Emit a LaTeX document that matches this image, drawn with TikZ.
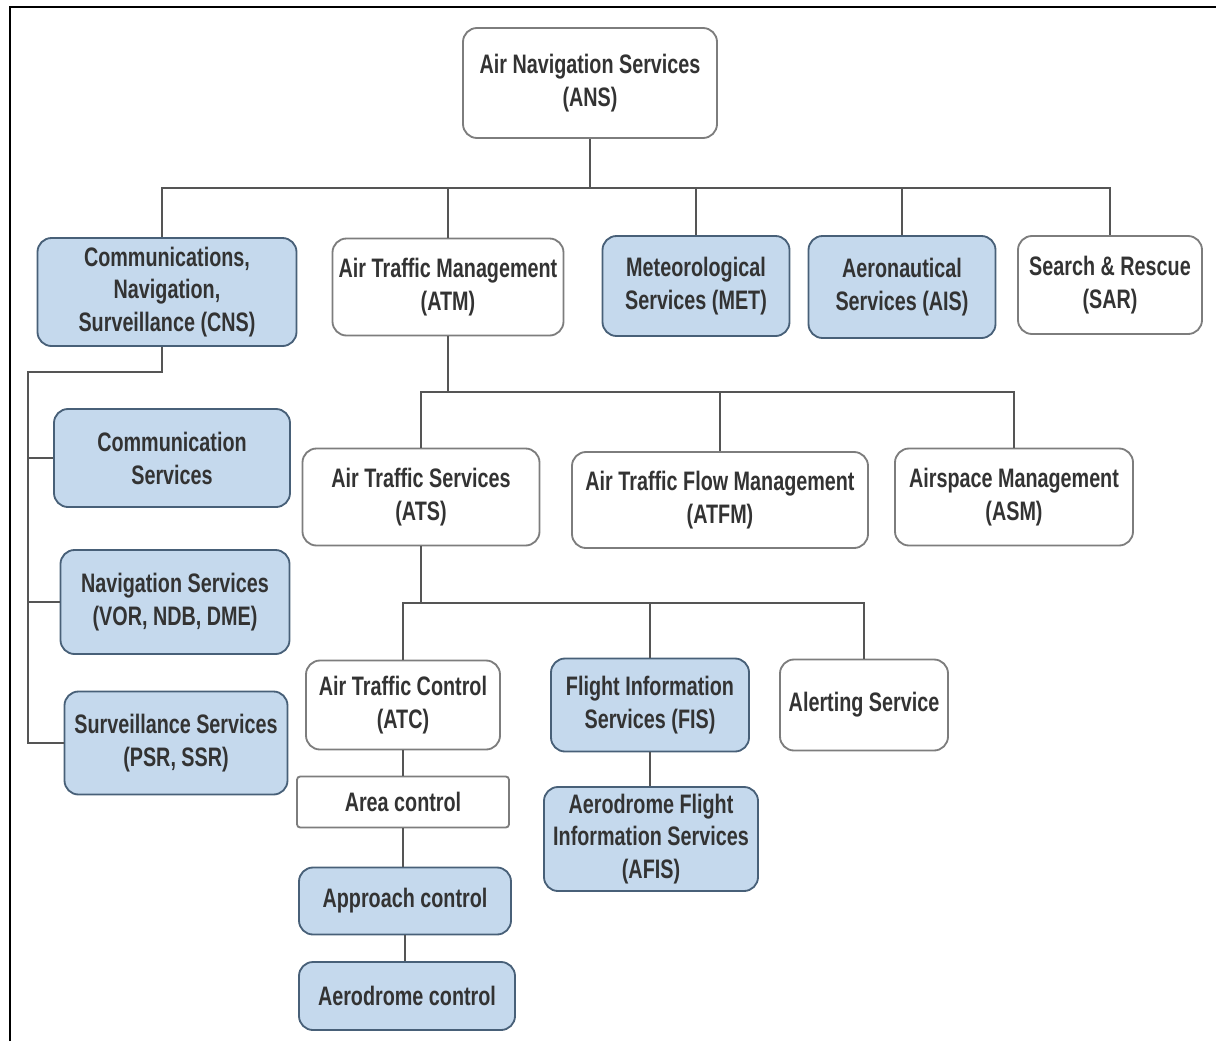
\documentclass[tikz,border=0pt]{standalone}
\usepackage{fontspec}
\setmainfont{Liberation Sans}[FakeStretch=0.74]
\definecolor{boxblue}{RGB}{197,217,237}
\definecolor{boxedge}{RGB}{72,96,120}
\definecolor{greyedge}{RGB}{125,125,125}
\definecolor{linegrey}{RGB}{85,85,85}

\begin{document}
\begin{tikzpicture}[x=0.025cm,y=-0.025cm, font=\bfseries\fontsize{19}{23.4}\selectfont,
    box/.style={draw=greyedge,fill=white,rounded corners=0.35cm,line width=1.3pt,align=center,inner sep=0pt,text=black!80},
    blu/.style={box,draw=boxedge,fill=boxblue},
    conn/.style={draw=linegrey,line width=1.2pt}]
      \useasboundingbox (0,0) rectangle (1216,1041);
      \draw[line width=1.4pt] (10,1041) -- (10,7) -- (1216,7);

      % top level
      \node[box,minimum width=254*0.025cm,minimum height=110*0.025cm] (ans) at (590,83) {Air Navigation Services\\(ANS)};

      \node[blu,minimum width=259*0.025cm,minimum height=108*0.025cm] (cns) at (167,292) {Communications,\\Navigation,\\Surveillance (CNS)};
      \node[box,minimum width=231*0.025cm,minimum height=97*0.025cm] (atm) at (448,287) {Air Traffic Management\\(ATM)};
      \node[blu,minimum width=187*0.025cm,minimum height=100*0.025cm] (met) at (696,286) {Meteorological\\Services (MET)};
      \node[blu,minimum width=187*0.025cm,minimum height=102*0.025cm] (ais) at (902,287) {Aeronautical\\Services (AIS)};
      \node[box,minimum width=184*0.025cm,minimum height=98*0.025cm] (sar) at (1110,285) {Search \& Rescue\\(SAR)};

      % CNS branch
      \node[blu,minimum width=236*0.025cm,minimum height=98*0.025cm] (comm) at (172,458) {Communication\\Services};
      \node[blu,minimum width=229*0.025cm,minimum height=104*0.025cm] (nav) at (175,602) {Navigation Services\\(VOR, NDB, DME)};
      \node[blu,minimum width=223*0.025cm,minimum height=103*0.025cm] (surv) at (176,743) {Surveillance Services\\(PSR, SSR)};

      % ATM branch
      \node[box,minimum width=237*0.025cm,minimum height=97*0.025cm] (ats) at (421,497) {Air Traffic Services\\(ATS)};
      \node[box,minimum width=296*0.025cm,minimum height=96*0.025cm] (atfm) at (720,500) {Air Traffic Flow Management\\(ATFM)};
      \node[box,minimum width=238*0.025cm,minimum height=97*0.025cm] (asm) at (1014,497) {Airspace Management\\(ASM)};

      % ATS branch
      \node[box,minimum width=194*0.025cm,minimum height=89*0.025cm] (atc) at (403,705) {Air Traffic Control\\(ATC)};
      \node[blu,minimum width=198*0.025cm,minimum height=93*0.025cm] (fis) at (650,705) {Flight Information\\Services (FIS)};
      \node[box,minimum width=168*0.025cm,minimum height=91*0.025cm] (alert) at (864,705) {Alerting Service};

      \node[box,rounded corners=0.08cm,minimum width=212*0.025cm,minimum height=51*0.025cm] (area) at (403,802) {Area control};
      \node[blu,minimum width=212*0.025cm,minimum height=67*0.025cm] (appr) at (405,901) {Approach control};
      \node[blu,minimum width=216*0.025cm,minimum height=68*0.025cm] (aero) at (407,996) {Aerodrome control};
      \node[blu,minimum width=214*0.025cm,minimum height=104*0.025cm] (afis) at (651,839) {Aerodrome Flight\\Information Services\\(AFIS)};

      % connectors
      \coordinate (b1) at (590,188);
      \draw[conn] (ans.south) -- (b1);
      \draw[conn] (b1) -| ([xshift=-0.125cm]cns.north);
      \foreach \n in {atm,met,ais,sar} \draw[conn] (b1) -| (\n.north);

      \coordinate (b2) at (448,392);
      \draw[conn] (atm.south) -- (b2);
      \foreach \n in {ats,atfm,asm} \draw[conn] (b2) -| (\n.north);

      \coordinate (b3) at (421,603);
      \draw[conn] (ats.south) -- (b3);
      \foreach \n in {atc,fis,alert} \draw[conn] (b3) -| (\n.north);

      \coordinate (b4) at (28,372);
      \draw[conn] ([xshift=-0.125cm]cns.south) |- (b4) -- (b4 |- surv.west) -- (surv.west);
      \foreach \n in {comm,nav} \draw[conn] (b4 |- \n.west) -- (\n.west);

      \draw[conn] (atc.south) -- (atc.south |- area.north);
      \draw[conn] (area.south) -- (area.south |- appr.north);
      \draw[conn] (appr.south) -- (appr.south |- aero.north);
      \draw[conn] (fis.south) -- (fis.south |- afis.north);
    \end{tikzpicture}
\end{document}
